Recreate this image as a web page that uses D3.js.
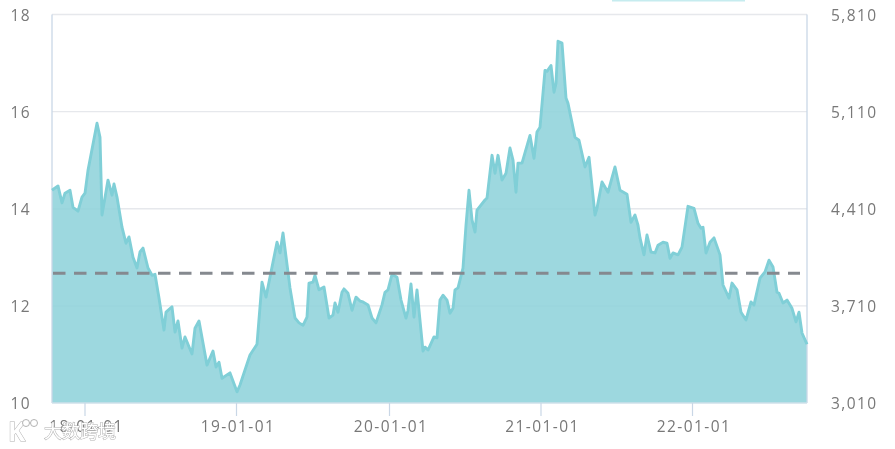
<!DOCTYPE html>
<html><head><meta charset="utf-8">
<script src="https://cdn.jsdelivr.net/npm/d3@7"></script>
<style>html,body{margin:0;padding:0;background:#fff}svg{display:block}text{font-family:"Open Sans",sans-serif}</style>
</head><body><div id="c"></div>
<script>
const sessions=[0,6,10,13,18,21,26,30,33,36,45,48,50,56,60,62,65,70,74,77,81,85,88,91,96,100,103,107,112,114,120,123,126,130,133,140,143,147,155,161,164,167,170,178,185,188,193,198,205,210,214,225,228,231,238,243,247,251,255,257,261,263,267,272,277,281,283,286,290,292,296,300,304,308,311,316,320,324,330,333,336,340,345,349,354,356,359,362,365,371,373,376,382,385,388,391,395,398,401,403,406,411,414,417,420,423,425,433,435,440,443,446,450,454,458,461,464,466,470,478,482,485,488,493,495,499,502,504,506,510,514,516,523,527,533,537,543,545,550,556,563,568,575,579,583,586,588,592,595,599,603,606,611,615,618,621,626,630,636,642,646,649,651,654,658,662,668,671,677,680,685,689,694,699,702,708,713,717,721,725,727,731,735,740,744,747,750,755];
const values=[14.38,14.47,14.12,14.32,14.38,14.03,13.95,14.24,14.32,14.79,15.76,15.47,13.87,14.59,14.28,14.51,14.24,13.62,13.29,13.42,13.00,12.78,13.11,13.19,12.78,12.63,12.65,12.16,11.50,11.87,11.98,11.46,11.69,11.13,11.36,11.01,11.54,11.69,10.78,11.07,10.74,10.84,10.51,10.62,10.23,10.37,10.68,10.99,11.21,12.49,12.18,13.31,13.09,13.50,12.37,11.75,11.65,11.60,11.77,12.47,12.49,12.63,12.33,12.39,11.75,11.81,12.06,11.87,12.28,12.35,12.26,11.91,12.18,12.10,12.08,12.02,11.75,11.65,12.02,12.28,12.33,12.65,12.59,12.12,11.75,11.91,12.45,11.77,12.33,11.07,11.15,11.09,11.36,11.34,12.12,12.22,12.12,11.85,11.95,12.33,12.37,12.78,13.66,14.38,13.77,13.52,13.97,14.18,14.22,15.10,14.73,15.10,14.59,14.73,15.25,15.00,14.34,14.94,14.94,15.51,15.04,15.58,15.68,16.85,16.83,16.95,16.40,16.58,17.45,17.41,16.28,16.17,15.47,15.41,14.86,15.06,13.87,14.01,14.55,14.34,14.86,14.38,14.30,13.72,13.87,13.66,13.40,13.05,13.46,13.11,13.09,13.25,13.31,13.29,12.98,13.09,13.05,13.21,14.05,14.01,13.70,13.60,13.62,13.09,13.31,13.40,13.05,12.43,12.16,12.47,12.33,11.87,11.71,12.08,12.02,12.57,12.70,12.94,12.80,12.28,12.26,12.06,12.12,11.95,11.67,11.87,11.44,11.21];
const leftTicks=[10,12,14,16,18];
const rightTicks=[3010,3710,4410,5110,5810];
const yearSessions=[33,184.5,337.5,489,640.5];
const yearLabels=["18-01-01","19-01-01","20-01-01","21-01-01","22-01-01"];
const meanValue=12.67;
const meanEnd=748;
const colors={fill:"#8fd3db",line:"#80cfd7",grid:"#e6e8ec",axis:"#c9d7e6",text:"#787878",mean:"#85898f",bar:"#c6ecef"};

const W=895,H=449;
const x=d3.scaleLinear().domain([0,755]).range([52,807]);
const y=d3.scaleLinear().domain([10,18]).range([403,14.5]);
const yR=d3.scaleLinear().domain([3010,5810]).range([403,14.5]);
const svg=d3.select("#c").append("svg").attr("width",W).attr("height",H);
const root=svg.append("g").style("filter","blur(0.55px)");

root.append("rect").attr("x",612).attr("y",0).attr("width",133).attr("height",1.5).attr("fill",colors.bar);

root.append("g").selectAll("line").data(leftTicks.slice(1)).join("line")
 .attr("x1",x(0)).attr("x2",x(755)).attr("y1",d=>y(d)).attr("y2",d=>y(d))
 .attr("stroke",colors.grid).attr("stroke-width",1.3);

const pts=sessions.map((s,i)=>[s,values[i]]);
root.append("path").datum(pts)
 .attr("d",d3.area().x(d=>x(d[0])).y0(y(10)).y1(d=>y(d[1])))
 .attr("fill",colors.fill).attr("fill-opacity",0.88);

[[x(0)],[x(755)]].forEach(([px])=>root.append("line").attr("x1",px).attr("x2",px).attr("y1",y(18)).attr("y2",y(10)).attr("stroke",colors.axis).attr("stroke-width",1.3));
root.append("line").attr("x1",x(0)).attr("x2",x(755)).attr("y1",y(10)).attr("y2",y(10)).attr("stroke","#cfe0ea").attr("stroke-width",1.3);

root.append("path").datum(pts)
 .attr("d",d3.line().x(d=>x(d[0])).y(d=>y(d[1])))
 .attr("fill","none").attr("stroke",colors.line).attr("stroke-width",2.9).attr("stroke-linejoin","round");

root.append("line").attr("x1",x(1)).attr("x2",x(meanEnd)).attr("y1",y(meanValue)).attr("y2",y(meanValue))
 .attr("stroke",colors.mean).attr("stroke-width",3).attr("stroke-dasharray","12.5 8.5");

root.append("g").selectAll("line").data(yearSessions).join("line")
 .attr("x1",d=>x(d)).attr("x2",d=>x(d)).attr("y1",y(10)).attr("y2",y(10)+13)
 .attr("stroke",colors.axis).attr("stroke-width",1.2);

const ts=(sel)=>sel.attr("fill",colors.text).attr("font-size",15.5).style("letter-spacing","1.4px").attr("dominant-baseline","central");
ts(root.append("g").selectAll("text").data(leftTicks).join("text").attr("x",31).attr("y",d=>y(d)).attr("text-anchor","end").text(d=>d));
ts(root.append("g").selectAll("text").data(rightTicks).join("text").attr("x",831).attr("y",d=>yR(d)).text(d3.format(",")));
ts(root.append("g").selectAll("text").data(yearSessions).join("text").attr("x",d=>x(d)+1.5).attr("y",426).attr("text-anchor","middle").style("letter-spacing","2.3px").text((d,i)=>yearLabels[i]));

const wm=root.append("g");
wm.append("text").attr("x",44).attr("y",438).text("大数跨境").attr("font-size",18)
 .style("font-family",'"Noto Sans CJK SC"').attr("fill","#fff").attr("stroke","#b0b0b0").attr("stroke-width",1).attr("paint-order","stroke");
wm.append("text").attr("x",8).attr("y",441).text("K").attr("font-size",26).attr("font-weight",700).attr("fill","#fff").attr("stroke","#b0b0b0").attr("stroke-width",1).attr("paint-order","stroke");
wm.selectAll("circle.w").data([26,34]).join("circle").attr("cx",d=>d).attr("cy",423).attr("r",3.5).attr("fill","#fff").attr("stroke","#aaa").attr("stroke-width",0.9);
</script></body></html>
